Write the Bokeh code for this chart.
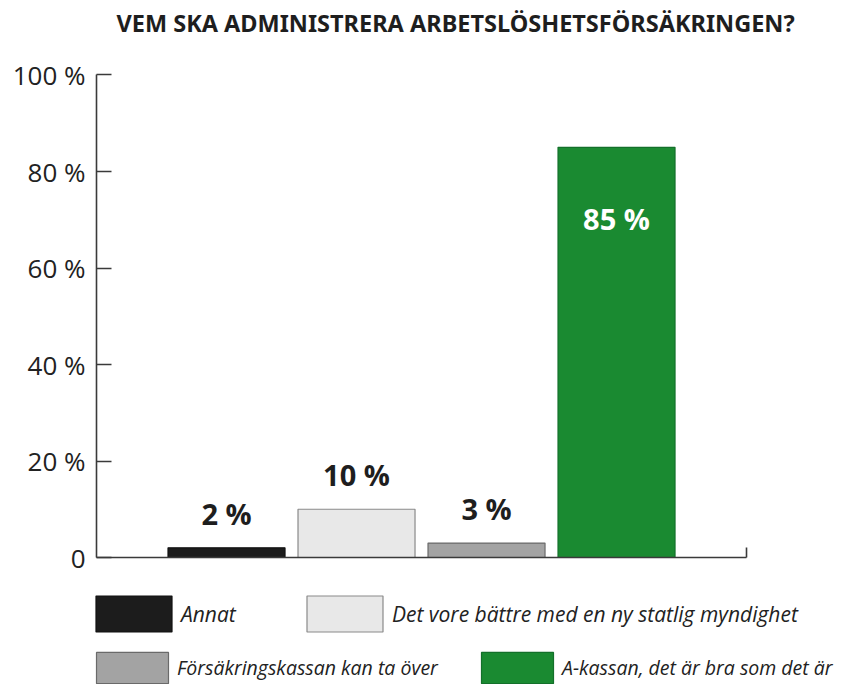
from bokeh.plotting import figure
from bokeh.models import (Range1d, FixedTicker, Label, LabelSet, ColumnDataSource,
                          Legend, LegendItem, LinearAxis)
from bokeh.core.properties import value
from bokeh.embed import file_html
from bokeh.resources import INLINE

# ---- data ----
categories = ["Annat",
              "Det vore bättre med en ny statlig myndighet",
              "Försäkringskassan kan ta över",
              "A-kassan, det är bra som det är"]
values = [2, 10, 3, 85]
y_ticks = [0, 20, 40, 60, 80, 100]
title_text = "VEM SKA ADMINISTRERA ARBETSLÖSHETSFÖRSÄKRINGEN?"

fill_colors = ["#1c1c1c", "#e8e8e8", "#a3a3a3", "#1a8a31"]
line_colors = ["#111111", "#8a8a8a", "#6a6a6a", "#13702a"]

FONT = "Open Sans"
BOLD_FONT = "Noto Sans"

# frame spans the whole canvas; axes are pinned at the data origin
p = figure(width=846, height=684, output_backend="svg", toolbar_location=None,
           x_range=Range1d(-0.7385, 5.769), y_range=Range1d(-26.32, 115.44),
           x_axis_location=None, y_axis_location=None,
           min_border_left=0, min_border_right=0, min_border_top=0,
           min_border_bottom=0)
p.outline_line_color = None
p.xgrid.visible = False
p.ygrid.visible = False
p.background_fill_color = "white"
p.border_fill_color = "white"

xs = list(range(1, len(values) + 1))
src = ColumnDataSource(dict(x=xs, top=values, fill=fill_colors, line=line_colors))
bars = p.vbar(x="x", top="top", width=0.9, source=src, fill_color="fill",
              line_color="line", line_width=1.2)

# axes
ya = LinearAxis(fixed_location=0, bounds=(0, 100))
ya.ticker = FixedTicker(ticks=y_ticks)
ya.major_label_overrides = {t: ("0" if t == 0 else f"{t} %") for t in y_ticks}
ya.major_tick_in = 15
ya.major_tick_out = 0
ya.minor_tick_line_color = None
ya.major_label_standoff = 11
ya.major_label_text_font = FONT
ya.major_label_text_font_size = "26px"
ya.major_label_text_color = "#222222"
ya.axis_line_color = "#3a3a3a"
ya.axis_line_width = 1.6
ya.major_tick_line_color = "#3a3a3a"
ya.major_tick_line_width = 1.6
p.add_layout(ya, "left")

xa = LinearAxis(fixed_location=0, bounds=(0, 5))
xa.ticker = FixedTicker(ticks=[5])
xa.major_label_overrides = {5: ""}
xa.major_tick_in = 10
xa.major_tick_out = 0
xa.minor_tick_line_color = None
xa.axis_line_color = "#3a3a3a"
xa.axis_line_width = 1.6
xa.major_tick_line_color = "#3a3a3a"
xa.major_tick_line_width = 1.6
p.add_layout(xa, "below")

# value labels
out_idx = [i for i, v in enumerate(values) if v < 50]
in_idx = [i for i, v in enumerate(values) if v >= 50]
src_out = ColumnDataSource(dict(x=[xs[i] for i in out_idx], y=[values[i] for i in out_idx],
                                t=[f"{values[i]} %" for i in out_idx]))
src_in = ColumnDataSource(dict(x=[xs[i] for i in in_idx], y=[values[i] for i in in_idx],
                               t=[f"{values[i]} %" for i in in_idx]))
p.add_layout(LabelSet(x="x", y="y", text="t", source=src_out, y_offset=23,
                      text_align="center", text_baseline="alphabetic",
                      text_font=value(FONT), text_font_style="bold",
                      text_font_size="29px", text_color="#1e1e1e"))
p.add_layout(LabelSet(x="x", y="y", text="t", source=src_in, y_offset=-83,
                      text_align="center", text_baseline="alphabetic",
                      text_font=value(FONT), text_font_style="bold",
                      text_font_size="29px", text_color="white"))

# title
p.add_layout(Label(x=2.762, y=110.88, text=title_text, text_align="center",
                   text_baseline="middle", text_font=BOLD_FONT, text_font_style="bold",
                   text_font_size="23.5px", text_color="#1e1e1e"))

# legends (two rows)
def make_legend(idx, loc, glyph_w, glyph_h, standoff, label_w, fsize):
    leg = Legend(items=[LegendItem(label=categories[i], renderers=[bars], index=i) for i in idx],
                 location=loc, orientation="horizontal", glyph_width=glyph_w,
                 glyph_height=glyph_h, label_width=label_w, label_standoff=standoff,
                 spacing=0, padding=0, margin=0, border_line_color=None,
                 background_fill_alpha=0, label_text_font=FONT,
                 label_text_font_style="italic", label_text_font_size=fsize,
                 label_text_color="#222222")
    p.add_layout(leg, "center")

make_legend([0, 1], (86, 48), 95, 45, 0, 116, "21px")
make_legend([2, 3], (87, -3), 90, 39, 0, 295, "19.5px")

open("out.html", "w").write(file_html(p, INLINE))
